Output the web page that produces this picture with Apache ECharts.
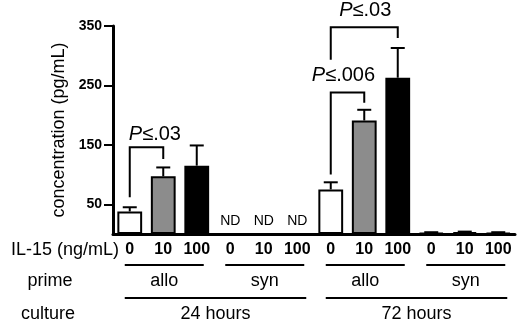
<!DOCTYPE html>
<html>
<head>
<meta charset="utf-8">
<script src="https://cdn.jsdelivr.net/npm/echarts@6/dist/echarts.min.js"></script>
<style>
  html, body { margin: 0; padding: 0; background: #fff; }
  #chart { width: 520px; height: 325px; }
</style>
</head>
<body>
<div id="chart"></div>
<script>
// IL-15 doses, one per bar
const doses = ['0', '10', '100', '0', '10', '100', '0', '10', '100', '0', '10', '100'];
// mean concentration (pg/mL), null = not detected
const means = [38, 97, 115, null, null, null, 75, 191, 263, 2, 3, 2];
// top of error bar
const errTops = [45, 112, 149, null, null, null, 87, 209, 313, 3, 4, 3];
const barColors = ['#ffffff', '#8c8c8c', '#000000'];
const ndIdx = [3, 4, 5];
const yTicks = [50, 150, 250, 350];

// brackets: [left idx, right idx, left bottom, top, right bottom]
const brackets = [
    [0, 1, 62, 146, 126],
    [6, 7, 100, 238, 221],
    [6, 8, 293, 348, 330]
];
// p-value labels: [x position in categories, y value, text]
const pLabels = [
    [0.75, 168, 'P≤.03'],
    [6.38, 266, 'P≤.006'],
    [7.03, 376, 'P≤.03']
];

// groups under the axis
const primeGroups = [[0, 2, 'allo'], [3, 5, 'syn'], [6, 8, 'allo'], [9, 11, 'syn']];
const cultureGroups = [[0, 5, '24 hours'], [6, 11, '72 hours']];

const FONT = '"Liberation Sans", Arial, sans-serif';

const chart = echarts.init(document.getElementById('chart'));

const option = {
    animation: false,
    grid: { left: 113, right: 5, top: 26, bottom: 91 },
    xAxis: {
        type: 'category',
        data: doses,
        axisLine: { lineStyle: { color: '#000', width: 3 } },
        axisTick: { alignWithLabel: true, length: 5, lineStyle: { color: '#000', width: 2 } },
        axisLabel: { color: '#000', fontFamily: FONT, fontSize: 16, fontWeight: 'bold', margin: 8, interval: 0 }
    },
    yAxis: {
        type: 'value',
        min: 0,
        max: 350,
        name: 'concentration (pg/mL)',
        nameLocation: 'middle',
        nameGap: 43,
        nameTextStyle: { color: '#000', fontFamily: FONT, fontSize: 18 },
        splitLine: { show: false },
        axisLine: { show: true, lineStyle: { color: '#000', width: 3 } },
        axisTick: { show: true, length: 9, customValues: yTicks, lineStyle: { color: '#000', width: 2 } },
        axisLabel: { color: '#000', fontFamily: FONT, fontSize: 14, fontWeight: 'bold', margin: 11, customValues: yTicks }
    },
    series: [
        {
            type: 'bar',
            barWidth: '74%',
            data: means.map((v, i) => ({
                value: v,
                itemStyle: { color: barColors[i % 3], borderColor: '#000', borderWidth: 2 }
            }))
        },
        {
            // error bars
            type: 'custom',
            data: means.map((v, i) => [i, v, errTops[i]]).filter(d => d[1] != null),
            renderItem: function (params, api) {
                const base = api.coord([api.value(0), api.value(1)]);
                const top = api.coord([api.value(0), api.value(2)]);
                const style = { stroke: '#000', lineWidth: 2 };
                return {
                    type: 'group',
                    children: [
                        { type: 'line', shape: { x1: base[0], y1: base[1], x2: top[0], y2: top[1] }, style: style },
                        { type: 'line', shape: { x1: top[0] - 7, y1: top[1], x2: top[0] + 7, y2: top[1] }, style: style }
                    ]
                };
            },
            z: 3
        },
        {
            // significance brackets
            type: 'custom',
            data: brackets,
            renderItem: function (params, api) {
                const a = api.coord([api.value(0), api.value(2)]);
                const b = api.coord([api.value(0), api.value(3)]);
                const c = api.coord([api.value(1), api.value(3)]);
                const d = api.coord([api.value(1), api.value(4)]);
                return {
                    type: 'polyline',
                    shape: { points: [a, b, c, d] },
                    style: { stroke: '#000', lineWidth: 2, fill: null }
                };
            }
        },
        {
            // p-value text (fractional category positions)
            type: 'custom',
            data: pLabels.map(d => [Math.floor(d[0]), d[1]]),
            renderItem: function (params, api) {
                const item = pLabels[params.dataIndex];
                const p = api.coord([api.value(0), api.value(1)]);
                const band = api.size([1, 0])[0];
                const x = p[0] + (item[0] - Math.floor(item[0])) * band;
                return {
                    type: 'text',
                    x: x, y: p[1],
                    style: {
                        rich: {
                            it: { fontStyle: 'italic', fontSize: 20, fontFamily: FONT, fill: '#000' },
                            n: { fontSize: 20, fontFamily: FONT, fill: '#000' }
                        },
                        text: '{it|P}{n|' + item[2].slice(1) + '}',
                        align: 'center',
                        verticalAlign: 'middle',
                        fill: '#000'
                    }
                };
            }
        },
        {
            // not detected labels
            type: 'custom',
            data: ndIdx.map(i => [i, 22]),
            renderItem: function (params, api) {
                const p = api.coord([api.value(0), api.value(1)]);
                return {
                    type: 'text',
                    x: p[0], y: p[1],
                    style: { text: 'ND', fontSize: 14, fontFamily: FONT, fill: '#000', align: 'center', verticalAlign: 'middle' }
                };
            }
        }
    ]
};

chart.setOption(option);

// row labels and group lines below the axis
function groupGraphics() {
    const px = i => chart.convertToPixel({ xAxisIndex: 0 }, i);
    const items = [];
    const textStyle = (t, x, y, align) => ({
        type: 'text', x: x, y: y,
        style: { text: t, fontSize: 18, fontFamily: FONT, fill: '#000', align: align || 'center', verticalAlign: 'middle' }
    });
    items.push(textStyle('IL-15 (ng/mL)', 119, 250, 'right'));
    items.push(textStyle('prime', 50, 281));
    items.push(textStyle('culture', 48, 314));
    primeGroups.forEach(g => {
        const x1 = px(g[0]) - 5, x2 = px(g[1]) + 7;
        items.push({ type: 'line', shape: { x1: x1, y1: 265, x2: x2, y2: 265 }, style: { stroke: '#000', lineWidth: 2 } });
        items.push(textStyle(g[2], (x1 + x2) / 2, 281));
    });
    cultureGroups.forEach(g => {
        const x1 = px(g[0]) - 5, x2 = px(g[1]) + 9;
        items.push({ type: 'line', shape: { x1: x1, y1: 298, x2: x2, y2: 298 }, style: { stroke: '#000', lineWidth: 2 } });
        items.push(textStyle(g[2], (x1 + x2) / 2, 314));
    });
    return items;
}

chart.setOption({ graphic: groupGraphics() });
</script>
</body>
</html>
